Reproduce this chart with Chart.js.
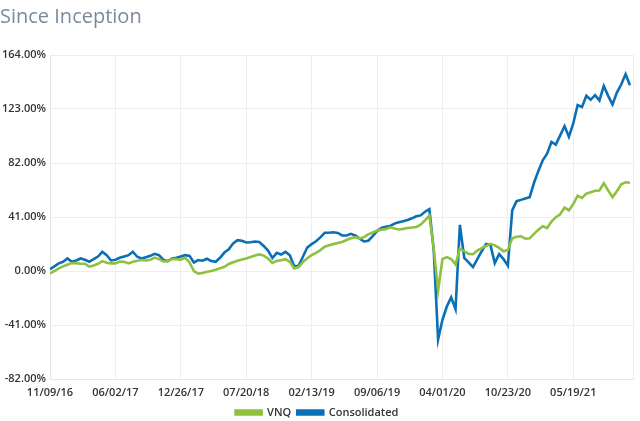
<!DOCTYPE html>
<html>
<head>
<meta charset="utf-8">
<script src="https://cdn.jsdelivr.net/npm/chart.js@4"></script>
<style>
  body { margin: 0; background: #fff; }
</style>
</head>
<body>
<canvas id="inception" width="640" height="421"></canvas>
<script>
// tick labels shown under every 15th point
var xLabels = ["11/09/16", "06/02/17", "12/26/17", "07/20/18", "02/13/19", "09/06/19", "04/01/20", "10/23/20", "05/19/21"];
var yTicks = [-82, -41, 0, 41, 82, 123, 164];

// cumulative return, %
var vnq = [
    -1.8, 0, 2, 3.5, 4.8, 6, 6, 5.5, 5.5, 3.3,
    4.2, 5.5, 7.5, 6.3, 5.8, 5.8, 7.2, 7, 5.8, 7,
    7.8, 8.3, 8, 8.6, 10.2, 9, 7.3, 7.5, 9, 9,
    8.6, 10, 6.5, 0, -2, -1.5, -0.5, 0, 1, 2,
    3.2, 5.3, 6.6, 7.7, 8.7, 9.5, 10.6, 11.8, 12.6, 11.7,
    9.5, 6.2, 7.7, 8.2, 9, 7, 2, 3, 6.8, 9.7,
    12, 13.8, 15.9, 18.4, 19.5, 20.4, 21.2, 22, 23.5, 24.9,
    25.7, 24.6, 25.7, 27.8, 29.2, 30.6, 31.4, 31.8, 33.2, 32.2,
    31.5, 32, 32.7, 33, 33.4, 35.2, 38.5, 42, 17, -15,
    9, 10.5, 9, 5, 17, 15, 13, 12.7, 15.5, 17.3,
    19, 20.6, 19.5, 17.5, 15, 16, 24.8, 26, 26.4, 24.5,
    24.8, 28.2, 31.4, 34, 32.6, 37.5, 40.9, 43.1, 48.2, 46,
    50.8, 57.2, 55.5, 58.7, 59.8, 60.9, 61.1, 66.6, 61.2, 56.1,
    60.6, 65.9, 67.4, 67
];
var consolidated = [
    1.3, 3.5, 5.8, 7, 9.5, 7, 8, 9.5, 8.5, 7,
    9, 11, 14.6, 12, 8, 8.5, 10, 11, 12, 14.6,
    10.8, 9.5, 10.5, 11.5, 13, 12, 8.5, 7.5, 9.5, 10,
    11, 12, 11.5, 6.5, 8.3, 7.8, 9.3, 7.5, 7, 10,
    14, 16.5, 21, 23.4, 23, 21.6, 21.8, 22.4, 22, 19,
    15.5, 9.8, 13.8, 12.5, 14.5, 12, 3.5, 4, 10.8, 17.8,
    20.4, 22.6, 25.5, 29, 29, 29.4, 28.9, 27, 27, 28.2,
    27, 24.6, 22.4, 23, 26.5, 30.3, 32.6, 33.5, 34.2, 36,
    37, 37.8, 38.7, 40, 41.5, 42.2, 45, 47, 15.8, -52,
    -37, -27, -20, -29, 35, 10, 6.5, 3, 9, 15,
    20.5, 19.8, 6, 12.8, 9, 4, 46, 53, 54, 55,
    56, 67, 76, 84, 89, 98, 96, 103, 110, 102,
    112, 126, 124.5, 133, 130, 133.5, 129.5, 140.5, 133, 126.5,
    135.5, 141.6, 149.5, 141
];

var greenColor = "#8dc13f";
var blueColor = "#0b6fb8";
var tickFont = { family: "'Open Sans', sans-serif", size: 11, weight: "600" };

function toPoints(arr) {
    return arr.map(function (v, i) { return { x: i, y: v }; });
}

// fixed, short legend box at the bottom edge
var tightLegend = {
    id: "tightLegend",
    beforeInit: function (chart) {
        var fit = chart.legend.fit;
        chart.legend.fit = function () {
            fit.bind(chart.legend)();
            this.height = 20;
        };
    },
};

var inceptionChart = new Chart(document.getElementById("inception").getContext("2d"), {
    type: "line",
    plugins: [tightLegend],
    data: {
        datasets: [
            {
                label: "VNQ",
                data: toPoints(vnq),
                borderColor: greenColor,
                backgroundColor: greenColor,
                borderWidth: 2.6,
                pointRadius: 0,
                tension: 0,
            },
            {
                label: "Consolidated",
                data: toPoints(consolidated),
                borderColor: blueColor,
                backgroundColor: blueColor,
                borderWidth: 2.6,
                pointRadius: 0,
                tension: 0,
            },
        ],
    },
    options: {
        responsive: false,
        animation: false,
        layout: { padding: { left: 0, right: 6, top: 0, bottom: 0 } },
        plugins: {
            tooltip: { enabled: false },
            title: {
                display: true,
                text: "Since Inception",
                align: "start",
                color: "#7b8b9b",
                font: { family: "'Open Sans', sans-serif", size: 20, weight: "normal" },
                padding: { top: 5, bottom: 26 },
            },
            legend: {
                position: "bottom",
                labels: {
                    boxWidth: 26,
                    boxHeight: 4,
                    color: "#333",
                    font: tickFont,
                    padding: 6,
                },
            },
        },
        scales: {
            x: {
                type: "linear",
                min: 0,
                max: 133.7,
                grid: { color: "#eeeeee", drawTicks: false },
                border: { color: "#e6e6e6" },
                afterFit: function (scale) { scale.height = 22; },
                ticks: {
                    stepSize: 15,
                    autoSkip: false,
                    maxRotation: 0,
                    color: "#333",
                    font: tickFont,
                    padding: 7,
                    callback: function (value) {
                        var k = value / 15;
                        return Number.isInteger(k) && xLabels[k] ? xLabels[k] : "";
                    },
                },
            },
            y: {
                min: yTicks[0],
                max: yTicks[yTicks.length - 1],
                grid: { color: "#eeeeee", drawTicks: false },
                border: { color: "#e6e6e6" },
                afterFit: function (scale) { scale.width = 50; },
                ticks: {
                    stepSize: 41,
                    color: "#333",
                    font: tickFont,
                    padding: 4,
                    callback: function (value) { return value.toFixed(2) + "%"; },
                },
            },
        },
    },
});
</script>
</body>
</html>
